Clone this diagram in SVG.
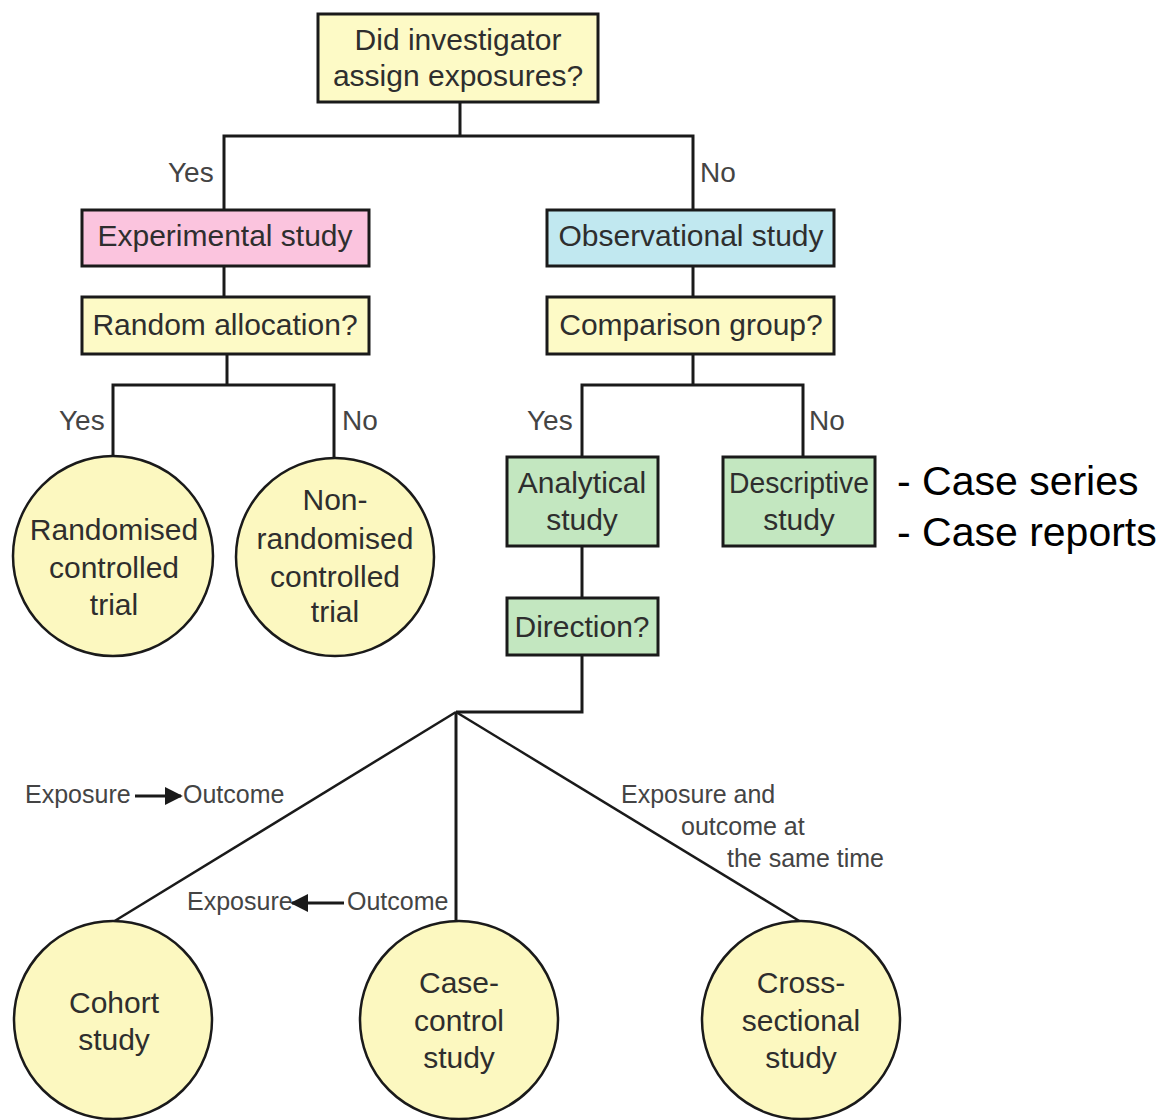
<svg xmlns="http://www.w3.org/2000/svg" width="1170" height="1120" viewBox="0 0 1170 1120">
<style>
.box{stroke:#1a1a1a;stroke-width:3}
.q{fill:#fdfac6}
.exp{fill:#fbc4de}
.obs{fill:#c1e8f0}
.grn{fill:#c3e7c0}
.circ{fill:#fcf8c0;stroke:#1a1a1a;stroke-width:2.5}
.t{font-family:"Liberation Sans",Arial,sans-serif;font-size:30px;fill:#2e2e2e;text-anchor:middle}
.yn{font-family:"Liberation Sans",Arial,sans-serif;font-size:28px;fill:#444}
.sm{font-family:"Liberation Sans",Arial,sans-serif;font-size:25px;fill:#444}
.big{font-family:"Liberation Sans",Arial,sans-serif;font-size:41px;fill:#000}
.ln{fill:none;stroke:#1a1a1a;stroke-width:3}
.dg{fill:none;stroke:#1a1a1a;stroke-width:2.5}
.ar{fill:none;stroke:#1a1a1a;stroke-width:3}
</style>
<defs>
<marker id="head" viewBox="0 0 10 10" refX="9" refY="5" markerUnits="userSpaceOnUse" markerWidth="18" markerHeight="20" orient="auto">
<path d="M0,0 L10,5 L0,10 z" fill="#1a1a1a"/>
</marker>
</defs>
<rect width="1170" height="1120" fill="#ffffff"/>

<g id="connectors">
<polyline class="ln" points="460,102 460,136"/>
<polyline class="ln" points="224,210 224,136 693,136 693,210"/>
<polyline class="ln" points="224,266 224,297"/>
<polyline class="ln" points="693,266 693,297"/>
<polyline class="ln" points="227,354 227,385"/>
<polyline class="ln" points="113,456 113,385 334,385 334,457"/>
<polyline class="ln" points="693,354 693,385"/>
<polyline class="ln" points="582,457 582,385 803,385 803,457"/>
<polyline class="ln" points="582,546 582,598"/>
<polyline class="ln" points="582,655 582,712 456,712"/>
<polyline class="ln" points="456,712 456,922"/>
<line class="dg" x1="456" y1="712" x2="113" y2="922"/>
<line class="dg" x1="456" y1="712" x2="801" y2="922"/>
<text class="yn" x="168" y="182">Yes</text>
<text class="yn" x="700" y="182">No</text>
<text class="yn" x="59" y="430">Yes</text>
<text class="yn" x="342" y="430">No</text>
<text class="yn" x="527" y="430">Yes</text>
<text class="yn" x="809" y="430">No</text>
<text class="sm" x="25" y="803">Exposure</text>
<line class="ar" x1="135" y1="796" x2="181" y2="796" marker-end="url(#head)"/>
<text class="sm" x="183" y="803">Outcome</text>
<text class="sm" x="187" y="910">Exposure</text>
<line class="ar" x1="344" y1="903" x2="292" y2="903" marker-end="url(#head)"/>
<text class="sm" x="347" y="910">Outcome</text>
<text class="sm" x="621" y="803">Exposure and</text>
<text class="sm" x="681" y="835">outcome at</text>
<text class="sm" x="727" y="867">the same time</text>
</g>

<g id="n-assign">
<rect class="box q" x="318" y="14" width="280" height="88"/>
<text class="t" x="458" y="50">Did investigator</text>
<text class="t" x="458" y="86">assign exposures?</text>
</g>
<g id="n-experimental">
<rect class="box exp" x="82" y="210" width="287" height="56"/>
<text class="t" x="225" y="246">Experimental study</text>
</g>
<g id="n-random">
<rect class="box q" x="82" y="297" width="287" height="57"/>
<text class="t" x="225" y="335">Random allocation?</text>
</g>
<g id="n-observational">
<rect class="box obs" x="547" y="210" width="287" height="56"/>
<text class="t" x="691" y="246">Observational study</text>
</g>
<g id="n-comparison">
<rect class="box q" x="547" y="297" width="287" height="57"/>
<text class="t" x="691" y="335">Comparison group?</text>
</g>
<g id="n-rct">
<circle class="circ" cx="113" cy="556" r="100"/>
<text class="t" x="114" y="540">Randomised</text>
<text class="t" x="114" y="578">controlled</text>
<text class="t" x="114" y="615">trial</text>
</g>
<g id="n-nrct">
<circle class="circ" cx="335" cy="557" r="99"/>
<text class="t" x="335" y="510">Non-</text>
<text class="t" x="335" y="549">randomised</text>
<text class="t" x="335" y="587">controlled</text>
<text class="t" x="335" y="622">trial</text>
</g>
<g id="n-analytical">
<rect class="box grn" x="507" y="457" width="151" height="89"/>
<text class="t" x="582" y="493">Analytical</text>
<text class="t" x="582" y="530">study</text>
</g>
<g id="n-descriptive">
<rect class="box grn" x="723" y="457" width="152" height="89"/>
<text class="t" x="799" y="493" textLength="140" lengthAdjust="spacingAndGlyphs">Descriptive</text>
<text class="t" x="799" y="530">study</text>
</g>
<g id="n-direction">
<rect class="box grn" x="507" y="598" width="151" height="57"/>
<text class="t" x="582" y="637">Direction?</text>
</g>
<g id="n-cohort">
<circle class="circ" cx="113" cy="1020" r="99"/>
<text class="t" x="114" y="1013">Cohort</text>
<text class="t" x="114" y="1050">study</text>
</g>
<g id="n-casecontrol">
<circle class="circ" cx="459" cy="1020" r="99"/>
<text class="t" x="459" y="993">Case-</text>
<text class="t" x="459" y="1031">control</text>
<text class="t" x="459" y="1068">study</text>
</g>
<g id="n-crosssectional">
<circle class="circ" cx="801" cy="1020" r="99"/>
<text class="t" x="801" y="993">Cross-</text>
<text class="t" x="801" y="1031">sectional</text>
<text class="t" x="801" y="1068">study</text>
</g>
<g id="n-caselist">
<text class="big" x="897" y="495">- Case series</text>
<text class="big" x="897" y="546">- Case reports</text>
</g>
</svg>
